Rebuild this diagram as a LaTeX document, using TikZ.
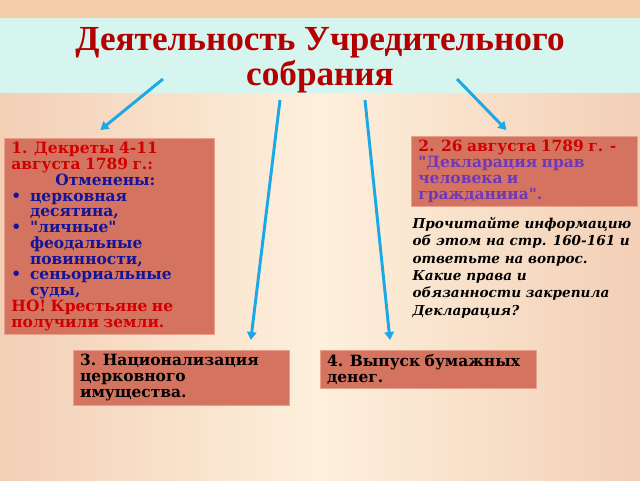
\documentclass[tikz,border=0pt]{standalone}
\usepackage{fontspec}
\setmainfont{DejaVu Serif}
\newfontfamily\titlefont{Liberation Serif}
\usetikzlibrary{positioning, calc, arrows.meta}
\definecolor{boxfill}{HTML}{D4735F}
\definecolor{boxline}{HTML}{E8A08C}
\definecolor{headred}{HTML}{B30000}
\definecolor{textred}{HTML}{D00000}
\definecolor{textblue}{HTML}{14149A}
\definecolor{textviolet}{HTML}{7038B8}
\definecolor{arrowblue}{HTML}{1AA8E6}
\definecolor{bandcyan}{HTML}{D6F5EF}
\definecolor{peachedge}{HTML}{F3CFB6}
\definecolor{peachmid}{HTML}{FDF0DC}
\definecolor{peachtop}{HTML}{F5CDA8}
\newcommand{\boxfont}{\bfseries\fontsize{11.6}{11.8}\selectfont}
\newcommand{\bul}{\makebox[14pt][l]{\textbullet}}
\newcommand{\q}{\textquotedbl}

\begin{document}
\begin{tikzpicture}[x=0.75pt, y=-0.75pt]
       \tikzstyle{box} = [
            rectangle,
            draw=boxline,
            fill=boxfill,
            line width=0.6pt,
            inner xsep=5pt,
            inner ysep=3pt,
            align=left,
            anchor=north west
       ]
       \tikzstyle{arrow} = [draw=arrowblue, line width=2.2pt, -{Triangle[width=7pt,length=6pt]}]
       % background
       \useasboundingbox (0,0) rectangle (640,480);
       \shade[left color=peachedge, right color=peachedge, middle color=peachmid] (0,0) rectangle (640,480);
       \fill[peachtop] (0,0) rectangle (640,18);
       \fill[bandcyan] (0,18) rectangle (640,93);

       \node (title) at (320,60) [align=center, text=headred, font=\titlefont\bfseries\fontsize{26.4}{26.5}\selectfont] {Деятельность Учредительного\\собрания};

       \node (decrees) at (4,138) [box, minimum width=210*0.75pt, minimum height=190*0.75pt, text width=147pt] {\boxfont
           \textcolor{textred}{1. Декреты 4-11\\августа 1789 г.:}\\
           \textcolor{textblue}{\hspace*{33pt}Отменены:\\
           \bul церковная\\\hspace*{14pt}десятина,\\
           \bul \q личные\q\\\hspace*{14pt}феодальные\\\hspace*{14pt}повинности,\\
           \bul сеньориальные\\\hspace*{14pt}суды,}\\
           \textcolor{textred}{НО! Крестьяне не\\получили земли.}};
       \node (declaration) at (411,136) [box, minimum width=226*0.75pt, minimum height=67*0.75pt, text width=159pt] {\boxfont
           \textcolor{textred}{2. 26 августа 1789 г. -}\\
           \textcolor{textviolet}{\q Декларация прав\\человека и\\гражданина\q.}};
       \node (question) [below=4pt of declaration.south west, anchor=north west, align=left, inner xsep=1pt, font=\bfseries\itshape\fontsize{10.2}{13.1}\selectfont] {Прочитайте информацию\\об этом на стр. 160-161 и\\ответьте на вопрос.\\Какие права и\\обязанности закрепила\\Декларация?};
       \node (church) at (73,350) [box, minimum width=216*0.75pt, minimum height=52*0.75pt, text width=152pt] {\boxfont 3. Национализация\\церковного\\имущества.};
       \node (money) at (320,350) [box, minimum width=216*0.75pt, minimum height=37*0.75pt, text width=152pt] {\boxfont 4. Выпуск бумажных\\денег.};

       \coordinate (from1) at ($(title.center)+(-157,19)$);
       \coordinate (from2) at ($(title.center)+(-40,40)$);
       \coordinate (from3) at ($(title.center)+(45,40)$);
       \coordinate (from4) at ($(title.center)+(137,19)$);
       \coordinate (tip1) at ($(decrees.north)+(-9,-8)$);
       \coordinate (tip2) at ($(church.north east)+(-39,-10)$);
       \coordinate (tip3) at ($(money.north west)+(70,-10)$);
       \coordinate (tip4) at ($(declaration.north)+(-18,-6)$);

       \draw[arrow] (from1) -- (tip1);
       \draw[arrow] (from2) -- (tip2);
       \draw[arrow] (from3) -- (tip3);
       \draw[arrow] (from4) -- (tip4);
\end{tikzpicture}
\end{document}
